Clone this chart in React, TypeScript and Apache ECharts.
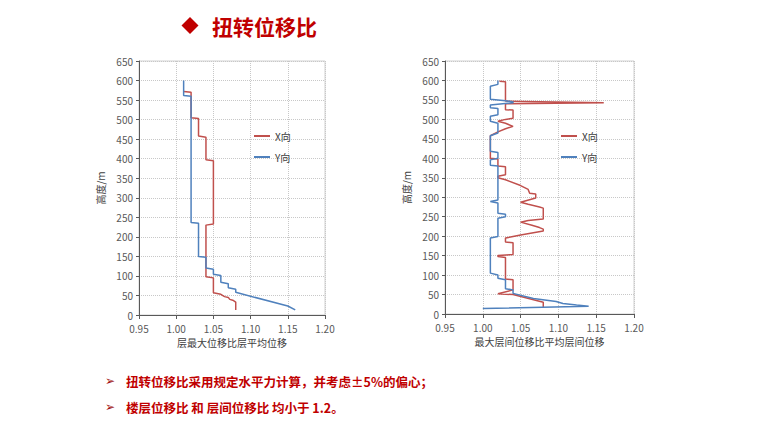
import React, { useEffect, useRef } from "react";
import * as echarts from "echarts";

// ---- data: [ratio, height(m)] ----
const leftX: [number, number][] = [
  [1.01, 572], [1.02, 570], [1.02, 505], [1.03, 503], [1.03, 458], [1.04, 455],
  [1.04, 397], [1.05, 395], [1.05, 233], [1.04, 230], [1.04, 98], [1.05, 95],
  [1.05, 57], [1.06, 53], [1.065, 47], [1.07, 45], [1.072, 40], [1.076, 38],
  [1.08, 33], [1.08, 13],
];
const leftY: [number, number][] = [
  [1.01, 600], [1.01, 562], [1.02, 560], [1.02, 237], [1.03, 235], [1.03, 150],
  [1.04, 148], [1.04, 120], [1.05, 117], [1.05, 104], [1.06, 101], [1.06, 84],
  [1.07, 80], [1.07, 70], [1.08, 66], [1.08, 58], [1.15, 23], [1.16, 13],
];
const rightX: [number, number][] = [
  [1.022, 598], [1.03, 597], [1.03, 547], [1.16, 543], [1.03, 540], [1.03, 525],
  [1.04, 524], [1.04, 503], [1.03, 500], [1.02, 495], [1.03, 490], [1.04, 482],
  [1.03, 476], [1.02, 468], [1.01, 458], [1.01, 400], [1.02, 398], [1.02, 380],
  [1.03, 378], [1.03, 358], [1.02, 354], [1.02, 350], [1.03, 345], [1.05, 330],
  [1.06, 320], [1.062, 310], [1.07, 308], [1.07, 298], [1.05, 287], [1.06, 282],
  [1.075, 275], [1.08, 272], [1.08, 244], [1.06, 240], [1.05, 236], [1.065, 228],
  [1.075, 222], [1.08, 218], [1.08, 213], [1.065, 208], [1.05, 203], [1.04, 199],
  [1.03, 195], [1.03, 185], [1.04, 183], [1.04, 153], [1.02, 150], [1.02, 148],
  [1.03, 145], [1.03, 90], [1.04, 88], [1.04, 62], [1.02, 52], [1.04, 50],
  [1.08, 30], [1.08, 18],
];
const rightY: [number, number][] = [
  [1.02, 600], [1.02, 590], [1.01, 585], [1.01, 552], [1.03, 548], [1.04, 545],
  [1.04, 543], [1.01, 537], [1.01, 530], [1.02, 528], [1.02, 512], [1.01, 508],
  [1.01, 495], [1.02, 490], [1.02, 465], [1.01, 458], [1.01, 418], [1.02, 415],
  [1.02, 400], [1.01, 396], [1.01, 382], [1.02, 380], [1.02, 293], [1.01, 289],
  [1.02, 285], [1.02, 259], [1.03, 256], [1.03, 250], [1.02, 246], [1.02, 199],
  [1.01, 195], [1.01, 105], [1.02, 100], [1.02, 92], [1.03, 88], [1.03, 65],
  [1.04, 62], [1.04, 53], [1.067, 40], [1.097, 32], [1.106, 27], [1.124, 23],
  [1.14, 20], [1.0, 14],
];

const seriesNames = ["X向", "Y向"];
const xAxisNames = ["层最大位移比层平均位移", "最大层间位移比平均层间位移"];
const yAxisName = "高度/m";
const titleText = "扭转位移比";
const bullets = [
  "扭转位移比采用规定水平力计算，并考虑±5%的偏心；",
  "楼层位移比 和 层间位移比 均小于 1.2。",
];

const RED = "#c0504d";
const BLUE = "#4f81bd";
const TEXT_RED = "#c00000";
const FONT = '"Noto Sans CJK SC", "Noto Sans", sans-serif';

function makeXAxis(i: number) {
  return {
    type: "value",
    gridIndex: i,
    min: 0.95,
    max: 1.2,
    interval: 0.05,
    name: xAxisNames[i],
    nameLocation: "middle",
    nameGap: 21,
    nameTextStyle: { color: "#404040", fontSize: 10, fontFamily: FONT },
    axisLine: { show: true, onZero: false, lineStyle: { color: "#595959", width: 1 } },
    axisTick: { show: true, length: 4, lineStyle: { color: "#595959" } },
    axisLabel: {
      color: "#595959",
      fontSize: 10,
      lineHeight: 10,
      margin: 8,
      fontFamily: FONT,
      formatter: (v: number) => v.toFixed(2),
    },
    splitLine: { show: true, lineStyle: { type: "dotted", color: "#c8c8c8" } },
  };
}

function makeYAxis(i: number) {
  return {
    type: "value",
    gridIndex: i,
    min: 0,
    max: 650,
    interval: 50,
    name: yAxisName,
    nameLocation: "middle",
    nameGap: 34,
    nameTextStyle: { color: "#404040", fontSize: 10, fontFamily: FONT },
    axisLine: { show: true, onZero: false, lineStyle: { color: "#595959", width: 1 } },
    axisTick: { show: true, length: 3, lineStyle: { color: "#595959" } },
    axisLabel: { color: "#595959", fontSize: 10, lineHeight: 10, margin: 6, fontFamily: FONT },
    splitLine: { show: true, lineStyle: { type: "dotted", color: "#c8c8c8" } },
  };
}

function makeSeries(name: string, idx: number, data: [number, number][], color: string) {
  return {
    type: "line",
    name,
    xAxisIndex: idx,
    yAxisIndex: idx,
    data,
    symbol: "none",
    showSymbol: false,
    lineStyle: { color, width: 1.5 },
    itemStyle: { color },
  };
}

function makeLegend(left: number) {
  return {
    left,
    top: 125,
    orient: "vertical",
    itemWidth: 16,
    itemHeight: 2,
    itemGap: 9,
    selectedMode: false,
    data: seriesNames.map((n) => ({ name: n, icon: "rect" })),
    textStyle: { color: "#404040", fontSize: 10, lineHeight: 12, fontFamily: FONT },
  };
}

export default function App() {
  const ref = useRef<HTMLDivElement>(null);
  useEffect(() => {
    if (!ref.current) return;
    const chart = echarts.init(ref.current, undefined, { renderer: "svg" });
    chart.setOption({
      animation: false,
      backgroundColor: "#ffffff",
      grid: [
        { left: 139, top: 61, width: 186, height: 254, show: true, borderColor: "#d0d0d0", borderWidth: 1 },
        { left: 445, top: 61, width: 189, height: 253, show: true, borderColor: "#d0d0d0", borderWidth: 1 },
      ],
      xAxis: [makeXAxis(0), makeXAxis(1)],
      yAxis: [makeYAxis(0), makeYAxis(1)],
      legend: [makeLegend(249), makeLegend(556)],
      series: [
        makeSeries(seriesNames[0], 0, leftX, RED),
        makeSeries(seriesNames[1], 0, leftY, BLUE),
        makeSeries(seriesNames[0], 1, rightX, RED),
        makeSeries(seriesNames[1], 1, rightY, BLUE),
      ],
      graphic: [
        {
          type: "polygon",
          shape: { points: [[190, 17], [198.5, 25.5], [190, 34], [181.5, 25.5]] },
          style: { fill: TEXT_RED },
        },
        {
          type: "text",
          x: 212,
          y: 26,
          style: {
            text: titleText,
            fill: TEXT_RED,
            fontSize: 21,
            fontWeight: "bold",
            fontFamily: FONT,
            verticalAlign: "middle",
          },
        },
        ...bullets.flatMap((t, i) => [
          {
            type: "text",
            x: 105,
            y: 381 + i * 26,
            style: {
              text: "➢",
              fill: "#a01010",
              fontSize: 12,
              fontFamily: '"DejaVu Sans", sans-serif',
              verticalAlign: "middle",
            },
          },
          {
            type: "text",
            x: 126,
            y: 381 + i * 26,
            style: {
              text: t,
              fill: TEXT_RED,
              fontSize: 12.5,
              fontWeight: "bold",
              fontFamily: FONT,
              verticalAlign: "middle",
            },
          },
        ]),
      ],
    });
    return () => chart.dispose();
  }, []);
  return (
    <div
      ref={ref}
      style={{ position: "fixed", left: 0, top: 0, width: 760, height: 428, background: "#fff" }}
    />
  );
}
